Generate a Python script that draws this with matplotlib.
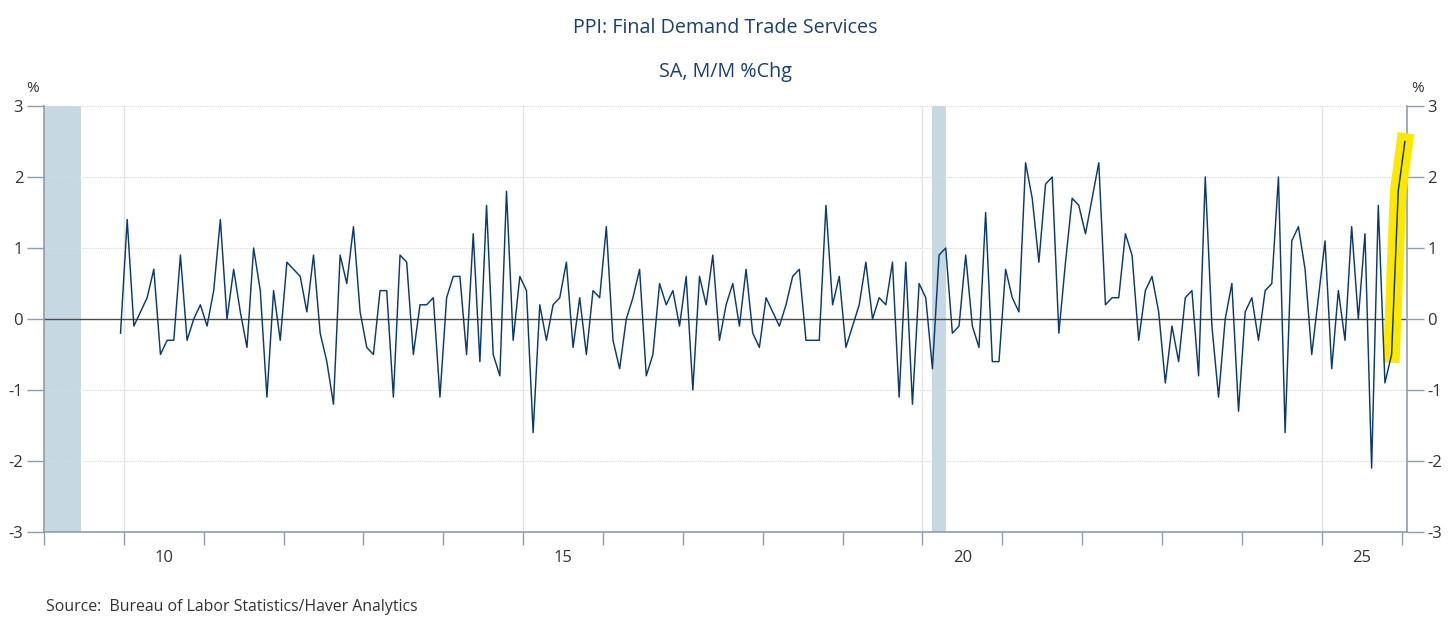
import matplotlib
matplotlib.use("Agg")
import matplotlib.pyplot as plt
import numpy as np

plt.rcParams['font.family'] = ['Open Sans', 'DejaVu Sans']

# ---- data (SA, M/M % change), first observation Dec 2009 ----
start_year, start_month = 2009, 12
v2009 = [-0.2]
v2010 = [1.4, -0.1, 0.1, 0.3, 0.7, -0.5, -0.3, -0.3, 0.9, -0.3, 0.0, 0.2]
v2011 = [-0.1, 0.4, 1.4, 0.0, 0.7, 0.1, -0.4, 1.0, 0.4, -1.1, 0.4, -0.3]
v2012 = [0.8, 0.7, 0.6, 0.1, 0.9, -0.2, -0.6, -1.2, 0.9, 0.5, 1.3, 0.1]
v2013 = [-0.4, -0.5, 0.4, 0.4, -1.1, 0.9, 0.8, -0.5, 0.2, 0.2, 0.3, -1.1]
v2014 = [0.3, 0.6, 0.6, -0.5, 1.2, -0.6, 1.6, -0.5, -0.8, 1.8, -0.3, 0.6]
v2015 = [0.4, -1.6, 0.2, -0.3, 0.2, 0.3, 0.8, -0.4, 0.3, -0.5, 0.4, 0.3]
v2016 = [1.3, -0.3, -0.7, 0.0, 0.3, 0.7, -0.8, -0.5, 0.5, 0.2, 0.4, -0.1]
v2017 = [0.6, -1.0, 0.6, 0.2, 0.9, -0.3, 0.2, 0.5, -0.1, 0.7, -0.2, -0.4]
v2018 = [0.3, 0.1, -0.1, 0.2, 0.6, 0.7, -0.3, -0.3, -0.3, 1.6, 0.2, 0.6]
v2019 = [-0.4, -0.1, 0.2, 0.8, 0.0, 0.3, 0.2, 0.8, -1.1, 0.8, -1.2, 0.5]
v2020 = [0.3, -0.7, 0.9, 1.0, -0.2, -0.1, 0.9, -0.1, -0.4, 1.5, -0.6, -0.6]
v2021 = [0.7, 0.3, 0.1, 2.2, 1.7, 0.8, 1.9, 2.0, -0.2, 0.8, 1.7, 1.6]
v2022 = [1.2, 1.7, 2.2, 0.2, 0.3, 0.3, 1.2, 0.9, -0.3, 0.4, 0.6, 0.1]
v2023 = [-0.9, -0.1, -0.6, 0.3, 0.4, -0.8, 2.0, -0.1, -1.1, 0.0, 0.5, -1.3]
v2024 = [0.1, 0.3, -0.3, 0.4, 0.5, 2.0, -1.6, 1.1, 1.3, 0.7, -0.5, 0.3]
v2025 = [1.1, -0.7, 0.4, -0.3, 1.3, 0.0, 1.2, -2.1, 1.6, -0.9, -0.5, 1.8]
v2026 = [2.5]

# recessions (start year, start month, end year, end month)
recessions = [(2007, 12, 2009, 6), (2020, 2, 2020, 4)]

x_labels = ["10", "15", "20", "25"]
x_label_years = [2010, 2015, 2020, 2025]
y_ticks = [-3, -2, -1, 0, 1, 2, 3]
highlight_last_n = 3

title = "PPI: Final Demand Trade Services"
subtitle = "SA, M/M %Chg"
source = "Source:  Bureau of Labor Statistics/Haver Analytics"

# ---- build series ----
values = np.array(v2009 + v2010 + v2011 + v2012 + v2013 + v2014 + v2015 + v2016 +
                  v2017 + v2018 + v2019 + v2020 + v2021 + v2022 + v2023 + v2024 +
                  v2025 + v2026)
idx = np.arange(len(values)) + (start_month - 1)
x = start_year + (idx + 0.5) / 12.0


def mpos(y, m):
    return y + (m - 0.5) / 12.0


navy = "#0B3A6E"
spine_c = "#8D9DAE"
grid_c = "#D9D9D9"
text_c = "#333333"
title_c = "#1B3F73"

W, H = 1456, 617
fig = plt.figure(figsize=(W / 100, H / 100), dpi=100)
ax = fig.add_axes([44 / W, 1 - 532 / H, (1406.6 - 44) / W, (532 - 106) / H])

xmin, xmax = 2009.0, 2026.063
ax.set_xlim(xmin, xmax)
ax.set_ylim(-3, 3)

# recession shading
for (sy, sm, ey, em) in recessions:
    ax.axvspan(max(mpos(sy, sm), xmin), mpos(ey, em), color="#C6D9E3", lw=0, zorder=0)

# grid
for yv in y_ticks:
    if yv != 0:
        ax.axhline(yv, color=grid_c, lw=0.8, ls=(0, (1, 1)), zorder=1)
for yr in x_label_years:
    ax.axvline(yr, color="#E2E2E2", lw=0.9, zorder=1)
ax.axhline(0, color="#4A4A4A", lw=1.0, zorder=2)

# highlight
ax.plot(x[-highlight_last_n:], values[-highlight_last_n:], color="#FFE800",
        lw=12, solid_capstyle="projecting", zorder=3, clip_on=False)

# series
ax.plot(x, values, color=navy, lw=1.05, zorder=4)

# spines
ax.spines["top"].set_visible(False)
for s in ["left", "right", "bottom"]:
    ax.spines[s].set_color(spine_c)
    ax.spines[s].set_linewidth(1.2)

# y ticks both sides
ax.set_yticks(y_ticks)
ax.set_yticklabels([str(t) for t in y_ticks])
ax.tick_params(axis="y", which="both", left=True, right=True, labelleft=True,
               labelright=True, length=12, width=1.0, color=spine_c,
               labelsize=12, labelcolor=text_c, pad=3)

# x ticks: major at year boundaries, labels at mid-year
ax.set_xticks(np.arange(2009, 2027))
ax.set_xticklabels([])
ax.tick_params(axis="x", which="major", length=9, width=1.0, color=spine_c)
ax.set_xticks([y + 0.5 for y in x_label_years], minor=True)
ax.set_xticklabels(x_labels, minor=True)
ax.tick_params(axis="x", which="minor", length=0, labelsize=12,
               labelcolor=text_c, pad=13)

# texts
fig.text(725 / W, 1 - 28 / H, title, ha="center", va="center", fontsize=14.2, color=title_c)
fig.text(725 / W, 1 - 72 / H, subtitle, ha="center", va="center", fontsize=14.2, color=title_c)
fig.text(33 / W, 1 - 89 / H, "%", ha="center", va="center", fontsize=11, color=text_c)
fig.text(1418 / W, 1 - 89 / H, "%", ha="center", va="center", fontsize=11, color=text_c)
fig.text(46 / W, 1 - 607 / H, source, ha="left", va="center", fontsize=11.4, color=text_c)

fig.savefig("out.png", dpi=100)
